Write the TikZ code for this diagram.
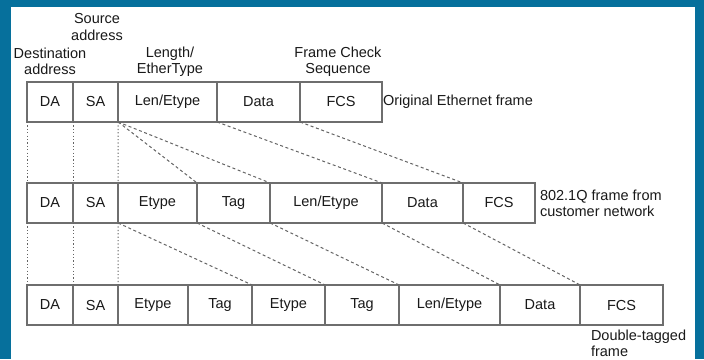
\documentclass[tikz,border=0pt]{standalone}
\usepackage{fontspec}
\setmainfont{Liberation Sans}
\definecolor{frameblue}{RGB}{6,112,156}
\definecolor{boxline}{RGB}{110,110,110}
\definecolor{guide}{RGB}{100,100,100}
\definecolor{ink}{RGB}{25,25,25}
\begin{document}
\begin{tikzpicture}[x=1bp,y=-1bp,
  field/.style={draw=boxline, line width=1.3bp, rectangle, inner sep=0pt, outer sep=0pt,
    minimum height=40bp, text=ink, font=\fontsize{14.5bp}{16bp}\selectfont},
  caption/.style={inner sep=0pt, outer sep=0pt, text=ink, align=center,
    font=\fontsize{14.5bp}{16.5bp}\selectfont},
  sidenote/.style={caption, align=left, anchor=west},
  straight/.style={draw=guide, line width=1bp, dash pattern=on 1.2bp off 2.2bp},
  slant/.style={draw=guide, line width=1bp, dash pattern=on 3bp off 2.6bp}]

% background and blue frame
\fill[frameblue] (0,0) rectangle (704,359);
\fill[white] (11,7) rectangle (695,359);
\useasboundingbox (0,0) rectangle (704,359);

% \fieldbox{name}{left}{right}{y-centre}{text}
\newcommand{\fieldbox}[5]{%
  \node[field, minimum width={#3-#2}] (#1) at ({(#2+#3)/2},#4) {#5};}

% original Ethernet frame
\fieldbox{ada}{27}{73}{102}{DA}
\fieldbox{asa}{73}{118}{102}{SA}
\fieldbox{alen}{118}{217}{102}{Len/Etype}
\fieldbox{adata}{217}{300}{102}{Data}
\fieldbox{afcs}{300}{382}{102}{FCS}

% 802.1Q frame
\fieldbox{bda}{27}{73}{203}{DA}
\fieldbox{bsa}{73}{118}{203}{SA}
\fieldbox{bet}{118}{197}{203}{Etype}
\fieldbox{btag}{197}{270}{203}{Tag}
\fieldbox{blen}{270}{382}{203}{Len/Etype}
\fieldbox{bdata}{382}{463}{203}{Data}
\fieldbox{bfcs}{463}{535}{203}{FCS}

% double-tagged frame
\fieldbox{cda}{27}{73}{305}{DA}
\fieldbox{csa}{73}{118}{305}{SA}
\fieldbox{cet}{118}{188}{305}{Etype}
\fieldbox{ctag}{188}{252}{305}{Tag}
\fieldbox{cetb}{252}{325}{305}{Etype}
\fieldbox{ctagb}{325}{399}{305}{Tag}
\fieldbox{clen}{399}{500}{305}{Len/Etype}
\fieldbox{cdata}{500}{580}{305}{Data}
\fieldbox{cfcs}{580}{663}{305}{FCS}

% field captions above the first frame
\node[caption] (srccap) at (97,27) {Source\\address};
\node[caption] (dstcap) at (50,61.5) {Destination\\address};
\node[caption] (lencap) at (170,61.5) {Length/\\EtherType};
\node[caption] (fcscap) at (338,61.5) {Frame Check\\Sequence};

% frame names
\node[sidenote] (orig) at (383,102) {Original Ethernet frame};
\node[sidenote] (qframe) at (540,203.5) {802.1Q frame from\\customer network};
\node[sidenote] (dframe) at (591,343.5) {Double-tagged\\frame};

% unchanged fields drop straight down
\draw[straight] (ada.south west) -- (bda.north west);
\draw[straight] (asa.south west) -- (bsa.north west);
\draw[straight] (alen.south west) -- (bet.north west);
\draw[straight] (bda.south west) -- (cda.north west);
\draw[straight] (bsa.south west) -- (csa.north west);
\draw[straight] (bet.south west) -- (cet.north west);

% shifted fields, first frame to 802.1Q frame
\draw[slant] (alen.south west) -- (btag.north west);
\draw[slant] (alen.south west) -- (blen.north west);
\draw[slant] (adata.south west) -- (bdata.north west);
\draw[slant] (afcs.south west) -- (bfcs.north west);

% shifted fields, 802.1Q frame to double-tagged frame
\draw[slant] (bet.south west) -- (cetb.north west);
\draw[slant] (btag.south west) -- (ctagb.north west);
\draw[slant] (blen.south west) -- (clen.north west);
\draw[slant] (bdata.south west) -- (cdata.north west);
\draw[slant] (bfcs.south west) -- (cfcs.north west);
\end{tikzpicture}
\end{document}
